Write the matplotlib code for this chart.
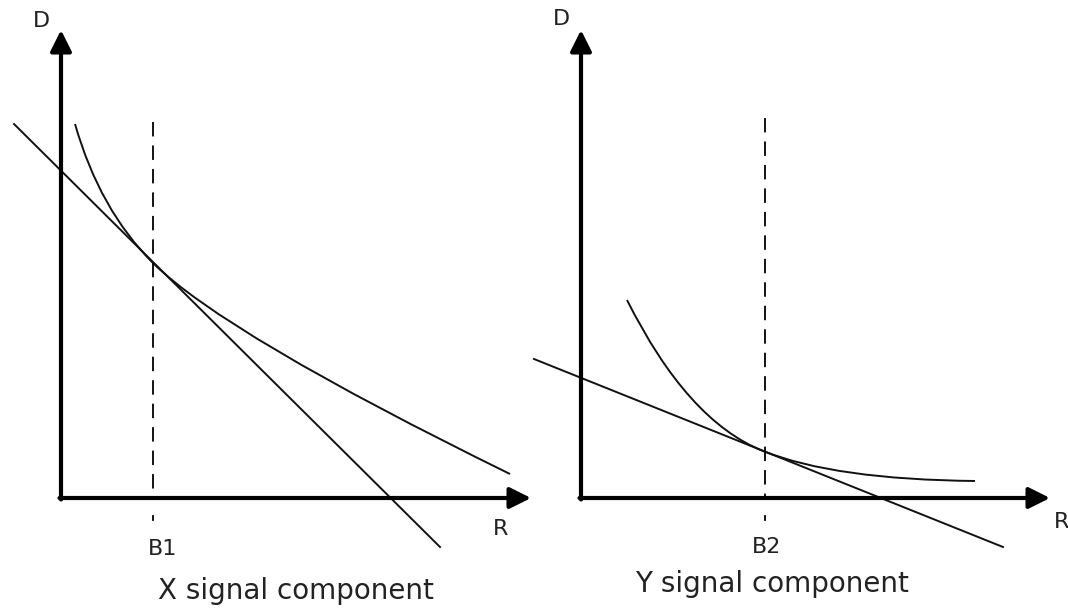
import numpy as np
import matplotlib
matplotlib.use("Agg")
import matplotlib.pyplot as plt
from matplotlib.path import Path
from matplotlib.patches import PathPatch

# diagram drawn in image pixel units (x right, y down)
origin_x = [61, 581]
origin_y = 498
x_tip = [531, 1050]
y_tip = 30

# left panel (X component): curve anchors with their slopes (dy/dx)
curve_x1 = [75, 153, 510]
curve_y1 = [124, 263, 474]
curve_s1 = [3.5, 0.993, 0.49]
line_x1 = [14, 440]
line_y1 = [124, 547]
b1_x = 153

# right panel (Y component)
curve_x2 = [627, 763, 975]
curve_y2 = [300, 451, 481]
curve_s2 = [2.0, 0.40, 0.01]
line_x2 = [534, 1003]
line_y2 = [359, 547]
b2_x = 765

dash_top = [122, 118]
dash_bottom = 500

labels_b = ["B1", "B2"]
titles = ["X signal component", "Y signal component"]


def tangent_path(xs, ys, slopes):
    # quadratic segments, control point where the end tangents meet
    verts = [(xs[0], ys[0])]
    codes = [Path.MOVETO]
    for i in range(len(xs) - 1):
        x0, y0, s0 = xs[i], ys[i], slopes[i]
        x1, y1, s1 = xs[i + 1], ys[i + 1], slopes[i + 1]
        cx = (y1 - y0 + s0 * x0 - s1 * x1) / (s0 - s1)
        cy = y0 + s0 * (cx - x0)
        verts += [(cx, cy), (x1, y1)]
        codes += [Path.CURVE3, Path.CURVE3]
    return Path(verts, codes)


fig = plt.figure(figsize=(10.68, 6.11), dpi=100)
ax = fig.add_axes([0, 0, 1, 1])
ax.set_xlim(0, 1068)
ax.set_ylim(611, 0)
ax.axis("off")

for i in range(2):
    ox = origin_x[i]
    ax.annotate("", xy=(ox, y_tip), xytext=(ox, origin_y + 1.5),
                arrowprops=dict(arrowstyle="-|>", lw=3, color="black",
                                mutation_scale=32, shrinkA=0, shrinkB=0))
    ax.annotate("", xy=(x_tip[i], origin_y), xytext=(ox - 1.5, origin_y),
                arrowprops=dict(arrowstyle="-|>", lw=3, color="black",
                                mutation_scale=32, shrinkA=0, shrinkB=0))

ax.add_patch(PathPatch(tangent_path(curve_x1, curve_y1, curve_s1),
                       fill=False, lw=1.4, color="#111111"))
ax.add_patch(PathPatch(tangent_path(curve_x2, curve_y2, curve_s2),
                       fill=False, lw=1.4, color="#111111"))
ax.plot(line_x1, line_y1, color="#111111", lw=1.4)
ax.plot(line_x2, line_y2, color="#111111", lw=1.4)

for i, bx in enumerate([b1_x, b2_x]):
    ax.plot([bx, bx], [dash_top[i], dash_bottom], color="black", lw=1.3,
            dashes=(8, 5))
    ax.plot([bx, bx], [516, 520], color="black", lw=1.3)

fs = 16
tc = "#222222"
ax.text(41, 21, "D", fontsize=fs, ha="center", va="center", color=tc)
ax.text(561, 19, "D", fontsize=fs, ha="center", va="center", color=tc)
ax.text(501, 529, "R", fontsize=fs, ha="center", va="center", color=tc)
ax.text(1062, 522, "R", fontsize=fs, ha="center", va="center", color=tc)
ax.text(163, 549, labels_b[0], fontsize=fs, ha="center", va="center", color=tc)
ax.text(767, 547, labels_b[1], fontsize=fs, ha="center", va="center", color=tc)
ax.text(296, 591, titles[0], fontsize=20, ha="center", va="center", color=tc)
ax.text(772, 584, titles[1], fontsize=20, ha="center", va="center", color=tc)

fig.savefig("out.png", dpi=100)
